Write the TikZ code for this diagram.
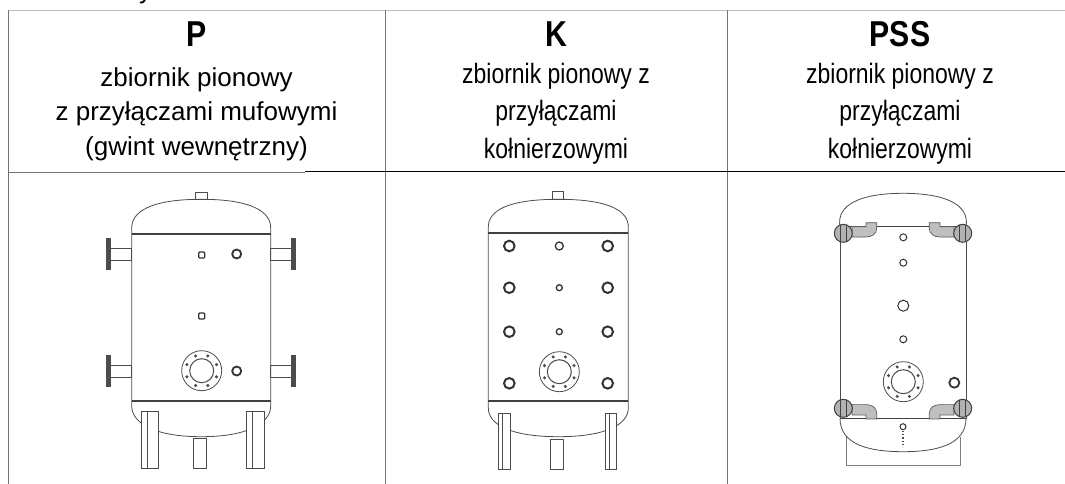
\documentclass[tikz,border=0pt]{standalone}
\usepackage{fontspec}
\setmainfont{Liberation Sans}
\newfontfamily\narrowfont[FakeStretch=0.82]{Liberation Sans}
\newfontfamily\headfont[FakeStretch=0.84]{Liberation Sans}
\tikzstyle{every node}=[inner sep=0pt, anchor=base]
\tikzset{headtxt/.style={font=\headfont\bfseries\fontsize{36}{40}\selectfont},
  widetxt/.style={font=\fontsize{26}{30}\selectfont},
  narrowtxt/.style={font=\narrowfont\fontsize{28}{32}\selectfont},
  grid/.style={draw=black!55, line width=0.8pt},
  tankline/.style={draw=black!70, line width=0.8pt},
  band/.style={draw=black!75, line width=1.6pt},
  hole/.style={draw=black!80, line width=1.3pt, fill=white},
  elbow/.style={draw=black!65, line width=0.7pt, fill=black!25},
  nut/.style={draw=black!75, line width=1pt, fill=black!30}}

\begin{document}
\begin{tikzpicture}[x=1pt, y=-1pt]
		\useasboundingbox (0,0) rectangle (1065,484);
		% table
		\draw[grid, draw=black!25] (8,10.5) -- (1065,10.5);
		\draw[grid] (8.5,10.5) -- (8.5,484);
		\draw[grid] (385.5,10.5) -- (385.5,484);
		\draw[grid] (727.5,10.5) -- (727.5,484);
		\draw[grid] (8,172) -- (305,172);
		\draw[grid, draw=black] (305,171.5) -- (1065,171.5);
		\node[widetxt, anchor=base west] (frag) at (139,-1.5) {y};
		% headers
		\node[headtxt] (hP) at (196.5,46.7) {P};
		\node[widetxt] (tP1) at (196.5,86.5) {zbiornik pionowy};
		\node[widetxt] (tP2) at (196.5,121) {z przyłączami mufowymi};
		\node[widetxt] (tP3) at (196.5,156) {(gwint wewnętrzny)};
		\node[headtxt] (hK) at (556,46.7) {K};
		\node[narrowtxt] (tK1) at (556,84) {zbiornik pionowy z};
		\node[narrowtxt] (tK2) at (556,121) {przyłączami};
		\node[narrowtxt] (tK3) at (556,158) {kołnierzowymi};
		\node[headtxt] (hS) at (900,46.7) {PSS};
		\node[narrowtxt] (tS1) at (900,84) {zbiornik pionowy z};
		\node[narrowtxt] (tS2) at (900,121) {przyłączami};
		\node[narrowtxt] (tS3) at (900,158) {kołnierzowymi};
		% tank P
		\draw[tankline] (195,192.5) rectangle (207,199.3);
		\draw[tankline] (131.7,406) -- (131.7,228) .. controls (131.7,212) and (150,199.3) .. (201.2,199.3)
			.. controls (252.4,199.3) and (270.7,212) .. (270.7,228) -- (270.7,406)
			.. controls (270.7,422) and (250,436.7) .. (201.2,436.7) .. controls (152.4,436.7) and (131.7,422) .. cycle;
		\draw[band] (131.7,234) -- (270.7,234);
		\draw[band] (131.7,400.7) -- (270.7,400.7);
		\foreach \ny in {254.3,371.3}{
			\draw[tankline] (110.7,\ny-6) rectangle (131.7,\ny+6);
			\draw[tankline] (270.7,\ny-6) rectangle (291.7,\ny+6);
			\draw[tankline, fill=black!70] (106.7,\ny-15.5) rectangle (110.7,\ny+15.5);
			\draw[tankline, fill=black!70] (291.7,\ny-15.5) rectangle (295.7,\ny+15.5);
		}
		\foreach \lx/\lw in {141.7/16.6, 246.7/17.3}{
			\draw[tankline, fill=white] (\lx,411.7) rectangle (\lx+\lw,468);
			\draw[tankline] (\lx+5.5,411.7) -- (\lx+5.5,468);
		}
		\draw[tankline, fill=white] (193.3,438) rectangle (206.7,468);
		\draw[hole, rounded corners=1pt] (198.7,252) rectangle (204.7,258);
		\draw[hole, rounded corners=1pt] (198.7,313) rectangle (204.7,319);
		\draw[hole, line width=1.8pt] (236.7,254) circle (4.5pt);
		\draw[hole, line width=1.8pt] (236.7,371) circle (4.5pt);
		% tank K
		\draw[tankline] (552.7,191.7) rectangle (563.3,199.3);
		\draw[tankline] (488.3,408) -- (488.3,227) .. controls (488.3,211) and (507,199.3) .. (558.3,199.3)
			.. controls (609.6,199.3) and (628.3,211) .. (628.3,227) -- (628.3,408)
			.. controls (628.3,424) and (607,436.7) .. (558.3,436.7) .. controls (509.6,436.7) and (488.3,424) .. cycle;
		\draw[band] (488.3,232.7) -- (628.3,232.7);
		\draw[band] (488.3,400.7) -- (628.3,400.7);
		\foreach \lx in {498.3, 605}{
			\draw[tankline, fill=white] (\lx,413) rectangle (\lx+11.7,469.3);
			\draw[tankline] (\lx+4,413) -- (\lx+4,469.3);
		}
		\draw[tankline, fill=white] (550,439) rectangle (563.3,469.3);
		\foreach \hy in {246, 287.7, 331.7, 383.3}{
			\draw[hole, line width=2pt] (509.3,\hy) circle (5.3pt);
			\draw[hole, line width=2pt] (607.7,\hy) circle (5.3pt);
		}
		\draw[hole] (559.3,246) circle (4pt);
		\draw[hole] (559.3,287.7) circle (3pt);
		\draw[hole] (559.3,331.7) circle (3pt);
		% tank PSS
		\draw[tankline, draw=black!50] (846.7,436.7) -- (846.7,465) -- (960,465) -- (960,436.7);
		\draw[tankline] (840,226.7) .. controls (836,204) and (862,193.3) .. (903,193.3)
			.. controls (944,193.3) and (970,204) .. (966,226.7);
		\draw[tankline] (840,418.3) .. controls (840,445) and (870,451.7) .. (903,451.7)
			.. controls (936,451.7) and (966,445) .. (966,418.3);
		\draw[tankline] (840,226.7) rectangle (966,418.3);
		\draw[band, line width=1.1pt] (840,226.7) -- (966,226.7);
		\draw[band, line width=1.1pt] (840,418.3) -- (966,418.3);
		\foreach \sx/\sy in {1/1,-1/1,1/-1,-1/-1}{
			\begin{scope}[shift={(903,320.8)}, xscale=\sx, yscale=\sy]
				\draw[elbow] (-51,-94.1) -- (-37,-94.1) -- (-37,-98.1) -- (-26.3,-98.1) -- (-26.3,-92.8)
					.. controls (-26.3,-86.8) and (-31,-83.8) .. (-37,-83.8) -- (-51,-83.8) -- cycle;
				\draw[nut] (-59.7,-87.5) circle (9pt);
				\draw[black!75, line width=0.8pt] (-62.7,-95.5) -- (-62.7,-79.5) (-56.7,-95.5) -- (-56.7,-79.5);
			\end{scope}
		}
		\foreach \hy/\hr in {237.3/3.5, 262.7/3.5, 305.7/5.5, 339.3/3.5}
			\draw[hole, line width=1pt] (903.3,\hy) circle (\hr pt);
		\draw[hole, line width=1.8pt] (954.3,382.7) circle (5pt);
		\draw[hole, line width=1pt] (903,426.7) circle (3pt);
		\draw[black!70, dotted, line width=1.2pt] (903,431) -- (903,447);
		% manholes
		\foreach \mx/\my in {201.7/370.7, 559.3/371.7, 903.3/381.7}{
			\draw[tankline, fill=white] (\mx,\my) circle (20pt);
			\draw[tankline, line width=1pt] (\mx,\my) circle (12pt);
			\foreach \a in {22.5,67.5,...,337.5}
				\fill[black!70] (\mx,\my) ++(\a:16pt) circle (1.7pt);
		}
\end{tikzpicture}
\end{document}
